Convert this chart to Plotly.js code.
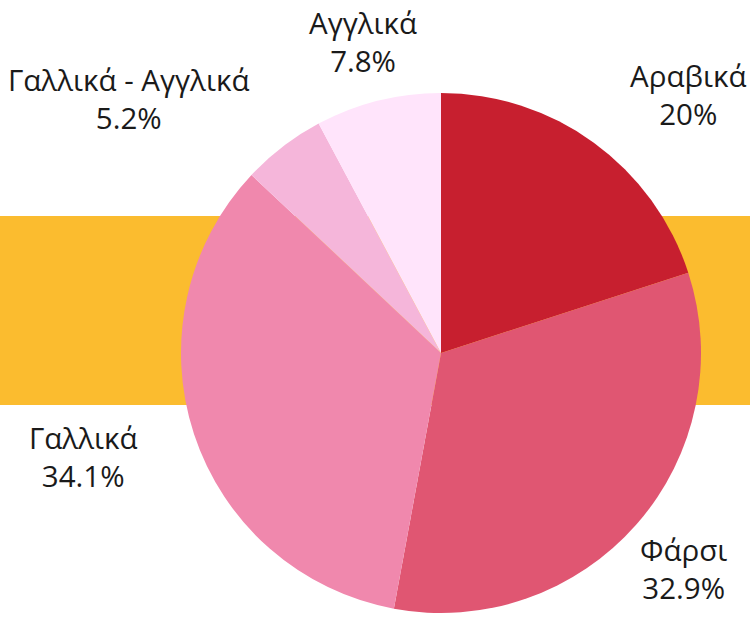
<!DOCTYPE html>
<html>
<head>
<meta charset="utf-8">
<script src="https://cdn.plot.ly/plotly-3.0.1.min.js"></script>
<style>html,body{margin:0;padding:0;background:#fff}#chart{width:750px;height:617px}</style>
</head>
<body>
<div id="chart"></div>
<script>
const labels = ["Αραβικά", "Φάρσι", "Γαλλικά", "Γαλλικά - Αγγλικά", "Αγγλικά"];
const values = [20, 32.9, 34.1, 5.2, 7.8];
const colors = ["#C71F2F", "#E05672", "#F088AD", "#F5B6DA", "#FFE4FB"];
// label anchor positions (paper coords)
const labelX = [688/750, 683/750, 83/750, 128/750, 363/750];
const labelY = [1-95/617, 1-568/617, 1-456/617, 1-98/617, 1-42/617];

const total = values.reduce((a,b)=>a+b,0);
function fmtPct(v){ let p = (v/total*100).toFixed(1); if (p.endsWith('.0')) p = p.slice(0,-2); return p + '%'; }

const annotations = labels.map((l,i)=>({
  xref:'paper', yref:'paper', x:labelX[i], y:labelY[i],
  xanchor:'center', yanchor:'middle', showarrow:false,
  text: l + '<br>' + fmtPct(values[i]),
  font:{family:'Open Sans, Noto Sans, sans-serif', size:29.5, color:'#1a1a1a'}
}));

const data = [{
  type:'pie', labels:labels, values:values, sort:false, direction:'clockwise', rotation:0,
  marker:{colors:colors, line:{width:0}}, textinfo:'none', hoverinfo:'label+percent',
  domain:{x:[(441-260)/750,(441+260)/750], y:[(264-260)/617,(264+260)/617]}
}];
const layout = {
  width:750, height:617, margin:{l:0,r:0,t:0,b:0}, showlegend:false,
  paper_bgcolor:'#ffffff',
  shapes:[{type:'rect', xref:'paper', yref:'paper', x0:0, x1:1, y0:(617-405)/617, y1:(617-216)/617,
    fillcolor:'#FBBC2F', line:{width:0}, layer:'below'}],
  annotations:annotations
};
Plotly.newPlot('chart', data, layout, {displayModeBar:false, staticPlot:true});
</script>
</body>
</html>
